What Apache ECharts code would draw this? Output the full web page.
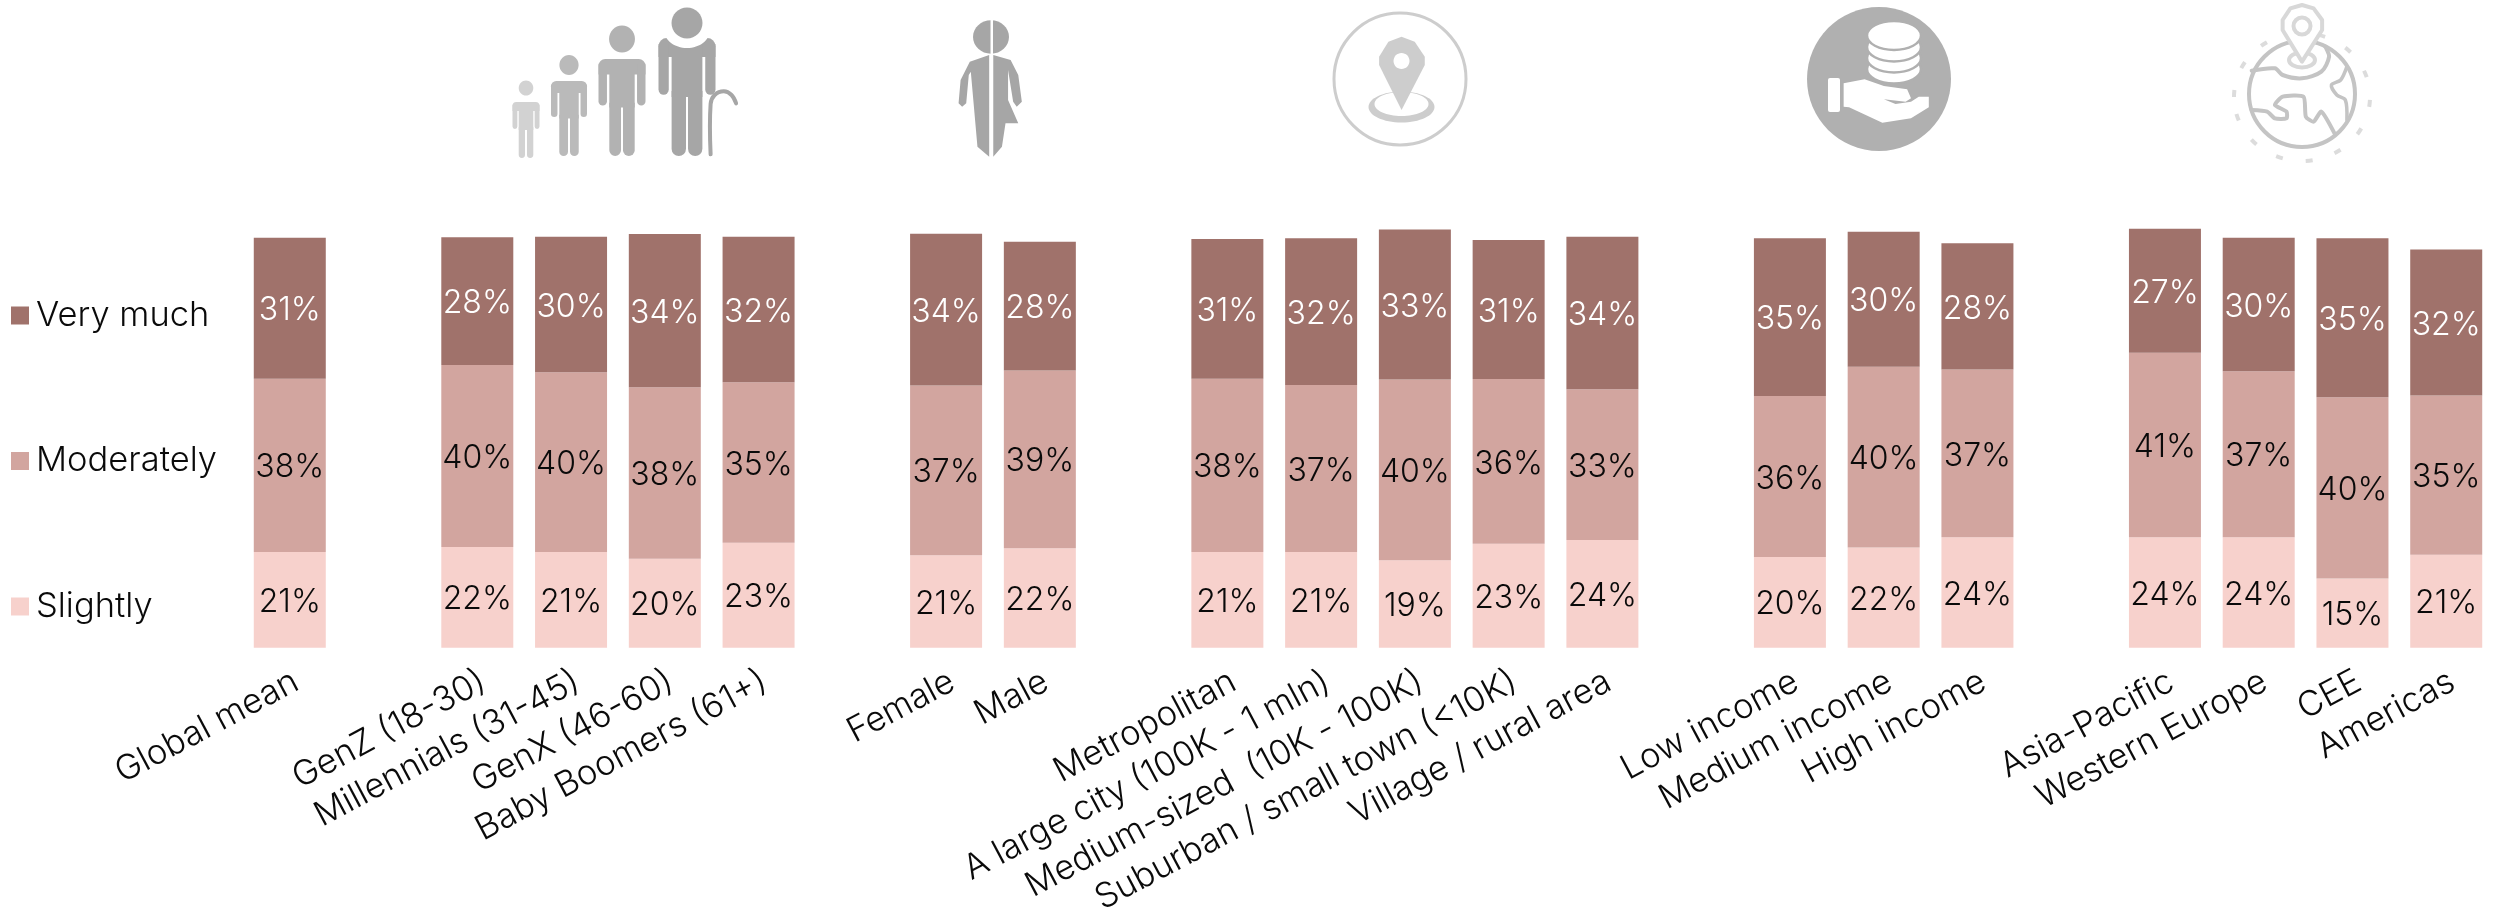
<!DOCTYPE html>
<html><head><meta charset="utf-8">
<style>html,body{margin:0;padding:0;background:#fff}#c{width:2494px;height:907px}</style>
<script src="https://cdn.jsdelivr.net/npm/echarts@6/dist/echarts.min.js"></script>
</head><body><div id="c"></div>
<script>
const categories = ['Global mean','','GenZ (18-30)','Millennials (31-45)','GenX (46-60)','Baby Boomers (61+)','','Female','Male','','Metropolitan','A large city (100K - 1 mln)','Medium-sized  (10K - 100K)','Suburban / small town (<10K)','Village / rural area','','Low income','Medium income','High income','','Asia-Pacific','Western Europe','CEE','Americas'];
const slightly   = [21.0,null,22.1,21.0,19.5,23.0,null,20.3,21.8,null,21.0,21.0,19.2,22.8,23.6,null,19.9,22.0,24.2,null,24.2,24.2,15.2,20.4];
const moderately = [38.0,null,39.9,39.4,37.6,35.2,null,37.2,39.0,null,38.0,36.6,39.6,36.1,33.1,null,35.3,39.6,36.8,null,40.5,36.4,39.7,34.9];
const veryMuch   = [30.9,null,28.0,29.7,33.6,31.9,null,33.3,28.2,null,30.6,32.2,32.9,30.5,33.4,null,34.6,29.6,27.7,null,27.2,29.3,34.9,32.0];
const slightlyLabels   = [21,null,22,21,20,23,null,21,22,null,21,21,19,23,24,null,20,22,24,null,24,24,15,21];
const moderatelyLabels = [38,null,40,40,38,35,null,37,39,null,38,37,40,36,33,null,36,40,37,null,41,37,40,35];
const veryMuchLabels   = [31,null,28,30,34,32,null,34,28,null,31,32,33,31,34,null,35,30,28,null,27,30,35,32];

const FONT = 'Inter';
const z1 = (x,y)=>[480+x/1.96,y/3];
const z2 = (x,y)=>[1280+x/1.2916,y/3];
const pts = (f,a)=>a.map(p=>f(p[0],p[1]));
const g = [];
const sil = o=>{o.silent=true;g.push(o);return o;};
const rect=(x,y,w,h,r,fill)=>sil({type:'rect',shape:{x,y,width:w,height:h,r},style:{fill}});
const ell=(cx,cy,rx,ry,style)=>sil({type:'ellipse',shape:{cx,cy,rx,ry},style});
const poly=(p,fill)=>sil({type:'polygon',shape:{points:p},style:{fill}});
const line=(p,stroke,lw,smooth)=>sil({type:'polyline',shape:{points:p,smooth:smooth||0},style:{stroke,lineWidth:lw,fill:null,lineCap:'round'}});
function person(cx,top,bottom,w,headY,headR,color){
  const h=bottom-top,aw=.18*w,tw=.54*w,r=aw/2;
  rect(cx-w/2,top,w,.16*h,[r*1.6,r*1.6,0,0],color);
  rect(cx-w/2,top+.05*h,aw,.43*h,[0,0,r,r],color);
  rect(cx+w/2-aw,top+.05*h,aw,.43*h,[0,0,r,r],color);
  rect(cx-tw/2,top,tw,.5*h,0,color);
  const lw=tw/2-1;
  rect(cx-tw/2,top+.45*h,lw,.55*h,[0,0,lw/2,lw/2],color);
  rect(cx+1,top+.45*h,lw,.55*h,[0,0,lw/2,lw/2],color);
  if(headR) ell(cx,headY,headR*.96,headR,{fill:color});
}
// generations icon
person(526,102,158,27,88,7.6,'#d2d2d2');
person(569,81,156,36,65,10,'#bababa');
person(622,59,156,47,39,13.5,'#b2b2b2');
person(687,38,156,57,0,0,'#a6a6a6');
ell(687,30,23,18,{fill:'#fff'});
ell(687,23,15.5,15.5,{fill:'#a6a6a6'});
line(pts(z1,[[452,463],[452,312],[460,285],[478,274],[493,285],[502,310]]),'#a6a6a6',4,.4);
// gender icon
ell(991,37,18,16.7,{fill:'#a6a6a6'});
poly(pts(z1,[[998,165],[960,185],[942,240],[938,310],[945,320],[953,310],[958,225],[962,215],[975,440],[998,470]]),'#a6a6a6');
poly(pts(z1,[[1006,165],[1040,180],[1055,225],[1062,305],[1052,320],[1045,305],[1035,210],[1035,300],[1055,370],[1030,370],[1023,440],[1006,470]]),'#a6a6a6');
rect(990.5,15,2.5,145,0,'#fff');
// location icon
ell(1400,79,66,66,{fill:'#fff',stroke:'#cdcdcd',lineWidth:3});
ell(1401.5,107,33,15.5,{fill:'#cdcdcd'});
ell(1401.5,104,27,12,{fill:'#fff'});
poly(pts(z2,[[157,330],[128,195],[128,170],[140,125],[157,110],[174,125],[187,170],[187,195]]),'#cdcdcd');
ell(1401.5,61,8,8,{fill:'#fff'});
// income icon
ell(1879,79,72,72,{fill:'#b0b0b0'});
[69,58,47,35.5].forEach(y=>ell(1894,y,27,14.5,{fill:'#fff',stroke:'#b0b0b0',lineWidth:2.5}));
rect(1828,78,12,34,2,'#fff');
poly(pts(z2,[[728,250],[755,238],[780,258],[810,268],[815,295],[808,305],[780,298],[795,312],[815,305],[825,290],[838,290],[838,322],[815,355],[778,368],[735,322],[728,320]]),'#fff');
// region icon
ell(2302,97,68,64,{fill:null,stroke:'#dcdcdc',lineWidth:4,lineDash:[7,23]});
ell(2302,94,53,53,{fill:'#fff',stroke:'#c4c4c4',lineWidth:4});
line(pts(z2,[[1255,212],[1285,205],[1295,225],[1320,235],[1345,215],[1355,170],[1350,140]]),'#c4c4c4',4,.3);
line(pts(z2,[[1378,200],[1370,240],[1358,255],[1365,285],[1376,300],[1378,360]]),'#c4c4c4',3.5,.3);
line(pts(z2,[[1255,330],[1275,335],[1285,355],[1300,355],[1300,335],[1285,315],[1295,290],[1322,290],[1325,350],[1335,365],[1345,335],[1362,400]]),'#c4c4c4',4,.2);
ell(2302,60,13,7.5,{fill:'#fff',stroke:'#d8d8d8',lineWidth:4});
sil({type:'polygon',shape:{points:pts(z2,[[1320,185],[1295,90],[1295,60],[1305,25],[1320,15],[1335,25],[1346,60],[1346,90]])},style:{fill:'#fff',stroke:'#d8d8d8',lineWidth:4,lineJoin:'round'}});
ell(2302,26,8.5,8.5,{fill:'#fff',stroke:'#d8d8d8',lineWidth:4});

const mkLabel=(labels,color)=>({show:true,position:'inside',offset:[0,2.5],color,fontFamily:FONT,fontWeight:300,fontSize:32,
  formatter:p=>labels[p.dataIndex]==null?'':labels[p.dataIndex]+'%'});
const base={type:'bar',stack:'s',barWidth:72,silent:true};
const chart=echarts.init(document.getElementById('c'));
chart.setOption({
  animation:false,backgroundColor:'#fff',
  graphic:{elements:g},
  legend:{orient:'vertical',left:6,top:293,itemWidth:18,itemHeight:18,itemGap:110.5,
    data:['Very much','Moderately','Slightly'],icon:'rect',selectedMode:false,
    textStyle:{fontFamily:FONT,fontWeight:300,fontSize:34.5,color:'#0a0a0a',padding:[0,0,0,2]}},
  grid:{left:242.9,width:2250.2,top:191.7,height:456,outerBoundsMode:'none',containLabel:false},
  xAxis:{type:'category',data:categories,axisLine:{show:false},axisTick:{show:false},
    axisLabel:{interval:0,rotate:28,margin:35,padding:[0,-7,0,0],fontFamily:FONT,fontWeight:300,fontSize:34.5,color:'#0a0a0a'}},
  yAxis:{type:'value',min:0,max:100,show:false},
  series:[
    {...base,name:'Slightly',data:slightly,itemStyle:{color:'#f7d1cc'},label:mkLabel(slightlyLabels,'#0a0a0a')},
    {...base,name:'Moderately',data:moderately,itemStyle:{color:'#d2a59f'},label:mkLabel(moderatelyLabels,'#0a0a0a')},
    {...base,name:'Very much',data:veryMuch,itemStyle:{color:'#a0726b'},label:mkLabel(veryMuchLabels,'#fff')}
  ]
});
</script></body></html>
